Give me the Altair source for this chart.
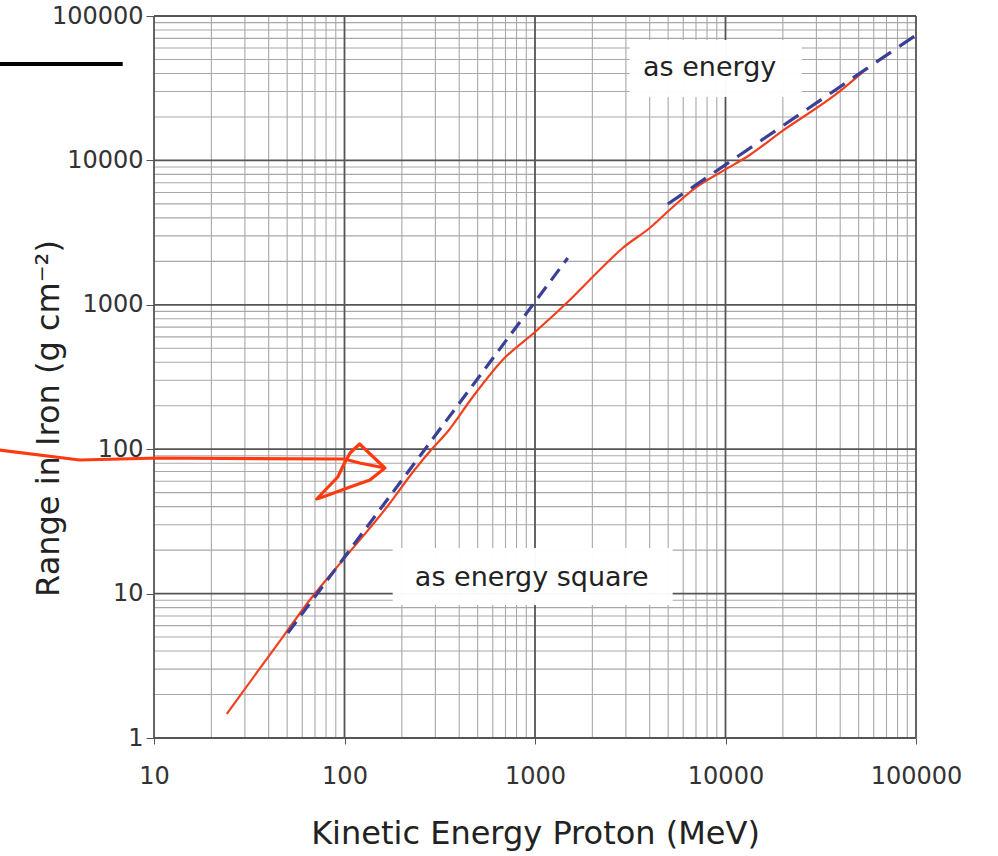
import altair as alt
import pandas as pd

# ---- data (log-log) ----
red_energy = [24.1, 47.4, 65.6, 100, 167, 233, 287, 344, 471, 676, 1000, 1466, 2265,
              2886, 4000, 5290, 7060, 9900, 13400, 19500, 38800, 52500]
red_range = [1.47, 5.0, 9.0, 17.6, 39.8, 71.8, 100, 130, 230, 415, 648, 1029, 1827,
             2473, 3404, 4757, 6546, 8590, 10900, 15700, 29300, 40900]

sq_energy = [50.4, 1486]      # "as energy square" fit
sq_range = [5.34, 2110]
lin_energy = [4980, 100000]   # "as energy" fit
lin_range = [4990, 73800]

# hand-drawn red arrow (in data coordinates)
arrow_energy = [1.55, 4.07, 10.7, 100, 120, 163, 120, 107, 100, 92.2, 71.5, 76.9, 107, 136, 163]
arrow_range = [98.7, 84.2, 86.9, 85.5, 80.2, 74.1, 108.7, 94.1, 80.2, 64.2, 45.2, 46.7, 54.7, 61.2, 74.1]

# annotations
ann_text = ["as energy", "as energy square"]
ann_x = [8260, 962]
ann_y = [43600, 12.8]
box_x1 = [3140, 179]
box_x2 = [25100, 5280]
box_y1 = [27500, 8.34]
box_y2 = [68200, 20.7]

decades = [1, 10, 100, 1000, 10000, 100000]
minor_mult = [2, 3, 4, 5, 6, 7, 8, 9]

XDOM = [10, 100000]
YDOM = [1, 100000]

xs = alt.Scale(type="log", domain=XDOM, nice=False)
ys = alt.Scale(type="log", domain=YDOM, nice=False)

FONT = "DejaVu Sans"

minor_x = [d * m for d in decades[1:-1] for m in minor_mult]
minor_y = [d * m for d in decades[:-1] for m in minor_mult]
major_x = decades[1:]
major_y = decades

minor_vx = alt.Chart(pd.DataFrame({"v": minor_x})).mark_rule(color="#a8a8a8", strokeWidth=1.1).encode(
    x=alt.X("v:Q", scale=xs))
minor_hy = alt.Chart(pd.DataFrame({"v": minor_y})).mark_rule(color="#a8a8a8", strokeWidth=1.1).encode(
    y=alt.Y("v:Q", scale=ys))
major_vx = alt.Chart(pd.DataFrame({"v": major_x})).mark_rule(color="#555555", strokeWidth=1.8).encode(
    x=alt.X("v:Q", scale=xs))
major_hy = alt.Chart(pd.DataFrame({"v": major_y})).mark_rule(color="#555555", strokeWidth=1.8).encode(
    y=alt.Y("v:Q", scale=ys))

ann_df = pd.DataFrame({"t": ann_text, "x": ann_x, "y": ann_y,
                       "x1": box_x1, "x2": box_x2, "y1": box_y1, "y2": box_y2})
boxes = alt.Chart(ann_df).mark_rect(color="white", opacity=0.97).encode(
    x=alt.X("x1:Q", scale=xs), x2="x2:Q", y=alt.Y("y1:Q", scale=ys), y2="y2:Q")
texts = alt.Chart(ann_df).mark_text(font=FONT, fontSize=27, color="#222222").encode(
    x=alt.X("x:Q", scale=xs), y=alt.Y("y:Q", scale=ys), text="t:N")

red = alt.Chart(pd.DataFrame({"e": red_energy, "r": red_range})).mark_line(
    color="#f0401e", strokeWidth=2.2, interpolate="monotone").encode(
    x=alt.X("e:Q", scale=xs,
            axis=alt.Axis(values=major_x, format="d", grid=False, domain=False,
                          tickSize=6, tickColor="#555555", labelFlush=False,
                          labelFont=FONT, labelFontSize=24, labelColor="#333333",
                          labelPadding=20, title="Kinetic Energy Proton (MeV)",
                          titleFont=FONT, titleFontSize=32, titleFontWeight="normal",
                          titleColor="#222222", titleX=381, titleY=105,
                          titleBaseline="alphabetic")),
    y=alt.Y("r:Q", scale=ys,
            axis=alt.Axis(values=major_y, format="d", grid=False, domain=False,
                          tickSize=8, tickColor="#555555", labelFlush=False,
                          labelFont=FONT, labelFontSize=24, labelColor="#333333",
                          labelPadding=3, title="Range in Iron (g cm⁻²)",
                          titleFont=FONT, titleFontSize=32, titleFontWeight="normal",
                          titleColor="#222222", titleX=-96, titleY=402, titleAngle=-90,
                          titleBaseline="alphabetic", titleAlign="center")),
)

sq = alt.Chart(pd.DataFrame({"e": sq_energy, "r": sq_range})).mark_line(
    color="#3b3f95", strokeWidth=3.2, strokeDash=[14, 8]).encode(
    x=alt.X("e:Q", scale=xs), y=alt.Y("r:Q", scale=ys))
lin = alt.Chart(pd.DataFrame({"e": lin_energy, "r": lin_range})).mark_line(
    color="#3b3f95", strokeWidth=3.2, strokeDash=[18, 10]).encode(
    x=alt.X("e:Q", scale=xs), y=alt.Y("r:Q", scale=ys))

arrow = alt.Chart(pd.DataFrame({"e": arrow_energy, "r": arrow_range,
                                "o": list(range(len(arrow_energy)))})).mark_line(
    color="#ff3a10", strokeWidth=3.2, clip=False, strokeJoin="round", strokeCap="round").encode(
    x=alt.X("e:Q", scale=xs), y=alt.Y("r:Q", scale=ys), order="o:Q")

black_line = alt.Chart(pd.DataFrame({"e": [1.55, 6.85], "r": [46500, 46500]})).mark_line(
    color="black", strokeWidth=4, clip=False).encode(
    x=alt.X("e:Q", scale=xs), y=alt.Y("r:Q", scale=ys))

chart = alt.layer(minor_vx, minor_hy, major_vx, major_hy, boxes, texts, red, sq, lin, arrow, black_line).properties(
    width=762, height=722,
    autosize=alt.AutoSizeParams(type="none"),
    padding={"left": 154, "top": 16, "right": 82, "bottom": 118},
).configure_view(stroke="#444444", strokeWidth=2).configure(background="white")

chart.save("out.html", embed_options={"renderer": "svg", "actions": False})
